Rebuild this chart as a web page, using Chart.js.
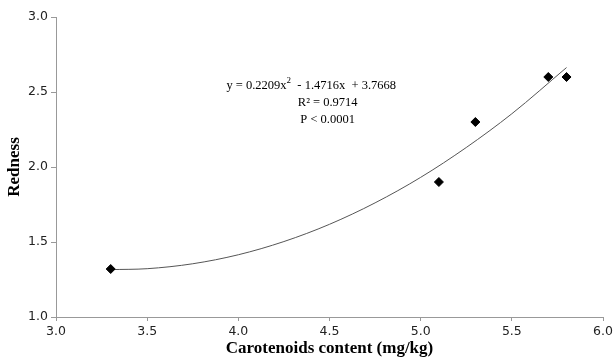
<!DOCTYPE html>
<html>
<head>
<meta charset="utf-8">
<script src="https://cdn.jsdelivr.net/npm/chart.js@4"></script>
<style>
html,body{margin:0;padding:0;background:#fff;}
#wrap{width:613px;height:360px;}
</style>
</head>
<body>
<div id="wrap"><canvas id="c" width="613" height="360"></canvas></div>
<script>
// Observed data points
const carotenoids = [3.3, 5.1, 5.3, 5.7, 5.8];
const redness = [1.32, 1.9, 2.3, 2.6, 2.6];
// Trend curve
const curveX = [3.3, 3.5, 3.75, 4.0, 4.25, 4.5, 4.75, 5.0, 5.25, 5.5, 5.8];
const curveY = [1.316, 1.322, 1.355, 1.415, 1.503, 1.618, 1.761, 1.931, 2.130, 2.355, 2.663];
const xTicks = [3.0, 3.5, 4.0, 4.5, 5.0, 5.5, 6.0];
const yTicks = [1.0, 1.5, 2.0, 2.5, 3.0];
const eqLines = ["R\u00B2 = 0.9714", "P < 0.0001"];

const SERIF = '"Liberation Serif", "Times New Roman", serif';
const annot = {
  id: 'annot',
  afterDatasetsDraw(chart) {
    const ctx = chart.ctx;
    const xs = chart.scales.x, ys = chart.scales.y;
    ctx.save();
    ctx.fillStyle = '#000';
    ctx.textBaseline = 'middle';
    const cx = xs.getPixelForValue(4.49);
    const big = '12.5px ' + SERIF, small = '9px ' + SERIF;
    const p1 = 'y = 0.2209x', sup = '2', p2 = '  - 1.4716x  + 3.7668';
    ctx.font = big;
    const w1 = ctx.measureText(p1).width;
    const w2 = ctx.measureText(p2).width;
    ctx.font = small;
    const ws = ctx.measureText(sup).width;
    const total = w1 + ws + w2;
    const x0 = xs.getPixelForValue(4.4) - total / 2;
    const y0 = ys.getPixelForValue(2.544);
    ctx.textAlign = 'left';
    ctx.font = big;
    ctx.fillText(p1, x0, y0);
    ctx.font = small;
    ctx.fillText(sup, x0 + w1, y0 - 5);
    ctx.font = big;
    ctx.fillText(p2, x0 + w1 + ws, y0);
    ctx.textAlign = 'center';
    ctx.fillText(eqLines[0], cx, ys.getPixelForValue(2.43));
    ctx.fillText(eqLines[1], cx, ys.getPixelForValue(2.315));
    ctx.restore();
  }
};

new Chart(document.getElementById('c'), {
  type: 'scatter',
  data: {
    datasets: [
      {
        label: 'trend',
        data: curveX.map((x, i) => ({x, y: curveY[i]})),
        showLine: true,
        borderColor: '#555',
        borderWidth: 1,
        pointRadius: 0,
        cubicInterpolationMode: 'monotone',
        order: 2
      },
      {
        label: 'data',
        data: carotenoids.map((x, i) => ({x, y: redness[i]})),
        pointStyle: 'rectRot',
        pointRadius: 4.5,
        backgroundColor: '#000',
        borderColor: '#000',
        borderWidth: 1,
        order: 1
      }
    ]
  },
  options: {
    responsive: false,
    animation: false,
    layout: {padding: {left: 0, right: 10, top: 17, bottom: 0}},
    plugins: {legend: {display: false}, tooltip: {enabled: false}},
    scales: {
      x: {
        type: 'linear', min: 3, max: 6,
        afterBuildTicks: s => { s.ticks = xTicks.map(v => ({value: v})); },
        afterFit: s => { s.height = 43; s.paddingRight = 0; s.paddingLeft = 0; },
        border: {display: true, color: '#999', width: 1},
        grid: {display: true, drawOnChartArea: false, drawTicks: true, tickLength: 4, color: '#999'},
        ticks: {padding: 3, color: '#222', font: {family: '"DejaVu Sans", Verdana, sans-serif', size: 12.5},
                callback: v => v.toFixed(1), maxRotation: 0},
        title: {display: true, text: 'Carotenoids content (mg/kg)', color: '#000', padding: {top: 0, bottom: 1},
                font: {family: SERIF, size: 17, weight: 'bold'}}
      },
      y: {
        type: 'linear', min: 1, max: 3,
        afterBuildTicks: s => { s.ticks = yTicks.map(v => ({value: v})); },
        afterFit: s => { s.width = 56; },
        border: {display: true, color: '#999', width: 1},
        grid: {display: true, drawOnChartArea: false, drawTicks: true, tickLength: 5, color: '#999'},
        ticks: {padding: 3, color: '#222', font: {family: '"DejaVu Sans", Verdana, sans-serif', size: 12.5},
                callback: v => v.toFixed(1)},
        title: {display: true, text: 'Redness', color: '#000', padding: {top: 4, bottom: 0},
                font: {family: SERIF, size: 17, weight: 'bold'}}
      }
    }
  },
  plugins: [annot]
});
</script>
</body>
</html>
